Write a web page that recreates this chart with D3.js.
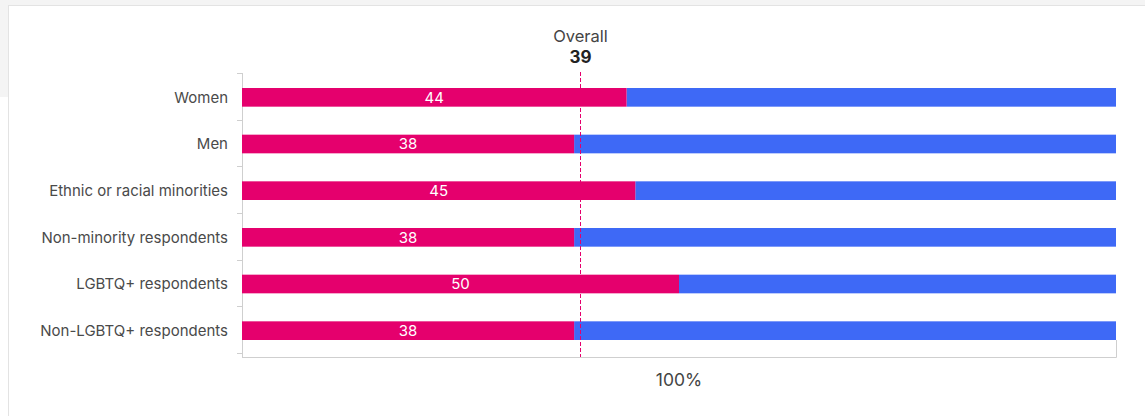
<!DOCTYPE html>
<html>
<head>
<meta charset="utf-8">
<script src="https://cdn.jsdelivr.net/npm/d3@7"></script>
<style>
  html, body { margin: 0; padding: 0; background: #fff; }
  body { width: 1145px; height: 416px; overflow: hidden; font-family: Inter, "Open Sans", sans-serif; }
  svg { display: block; }
</style>
</head>
<body>
<svg id="chart" width="1145" height="416"></svg>
<script>
// Share of respondents per group (pink segment), remainder filled in blue
const categories = ["Women", "Men", "Ethnic or racial minorities", "Non-minority respondents", "LGBTQ+ respondents", "Non-LGBTQ+ respondents"];
const shares = [44, 38, 45, 38, 50, 38];
const overallShare = 39;
const overallLabel = "Overall";
const totalLabel = "100%";

const pink = "#e5006d";
const blue = "#3e69f6";
const axisGrey = "#cfcfcf";

const svg = d3.select("#chart");

// page backdrop and card outline
svg.append("rect").attr("x", 0).attr("y", 0).attr("width", 1145).attr("height", 97).attr("fill", "#f4f4f4");
svg.append("rect").attr("x", 8.5).attr("y", 5.5).attr("width", 1160).attr("height", 430)
  .attr("fill", "#fff").attr("stroke", "#e3e3e3");

const x = d3.scaleLinear().domain([0, 100]).range([242, 1116]);
const y = d3.scaleBand().domain(categories).range([74, 354]).paddingInner(0.6).paddingOuter(0.3);

// y axis: ticks at band boundaries
const boundaries = d3.range(categories.length + 1).map(i => 73 + i * y.step());
const yAxisG = svg.append("g");
yAxisG.selectAll("line.tick")
  .data(boundaries)
  .join("line")
  .attr("class", "tick")
  .attr("x1", 237).attr("x2", 242)
  .attr("y1", d => Math.round(d) + 0.5).attr("y2", d => Math.round(d) + 0.5)
  .attr("stroke", axisGrey);
yAxisG.append("line")
  .attr("x1", 242.5).attr("x2", 242.5).attr("y1", 73).attr("y2", 357.5)
  .attr("stroke", axisGrey);

// bottom baseline with right edge riser
svg.append("path")
  .attr("d", `M${x(0)},357.5H${x(100) + 0.5}V${y(categories[categories.length - 1]) + y.bandwidth()}`)
  .attr("fill", "none").attr("stroke", axisGrey);

// category labels
svg.append("g").selectAll("text")
  .data(categories)
  .join("text")
  .attr("x", 228)
  .attr("y", d => y(d) + y.bandwidth() / 2)
  .attr("dy", "0.35em")
  .attr("text-anchor", "end")
  .attr("font-size", 15)
  .attr("fill", "#4a4a4a")
  .text(d => d);

const rows = categories.map((c, i) => ({ c, v: shares[i] }));

// blue remainder
svg.append("g").selectAll("rect")
  .data(rows)
  .join("rect")
  .attr("x", d => x(d.v))
  .attr("y", d => y(d.c))
  .attr("width", d => x(100) - x(d.v))
  .attr("height", y.bandwidth())
  .attr("fill", blue);

// pink share
svg.append("g").selectAll("rect")
  .data(rows)
  .join("rect")
  .attr("x", x(0))
  .attr("y", d => y(d.c))
  .attr("width", d => x(d.v) - x(0))
  .attr("height", y.bandwidth())
  .attr("fill", pink);

// value labels
svg.append("g").selectAll("text")
  .data(rows)
  .join("text")
  .attr("x", d => (x(0) + x(d.v)) / 2)
  .attr("y", d => y(d.c) + y.bandwidth() / 2)
  .attr("dy", "0.36em")
  .attr("text-anchor", "middle")
  .attr("font-size", 15)
  .attr("fill", "#fff")
  .text(d => d.v);

// overall reference line
const xo = Math.round(x(overallShare)) - 2.5;
svg.append("line")
  .attr("x1", xo).attr("x2", xo)
  .attr("y1", 72).attr("y2", 357)
  .attr("stroke", pink).attr("stroke-width", 1)
  .attr("stroke-dasharray", "4,2");

svg.append("text")
  .attr("x", xo).attr("y", 42)
  .attr("text-anchor", "middle")
  .attr("font-size", 16.5)
  .attr("fill", "#444")
  .text(overallLabel);
svg.append("text")
  .attr("x", xo).attr("y", 63)
  .attr("text-anchor", "middle")
  .attr("font-size", 17)
  .attr("font-weight", "bold")
  .attr("fill", "#222")
  .text(overallShare);

// total label under the axis
svg.append("text")
  .attr("x", (x(0) + x(100)) / 2)
  .attr("y", 386)
  .attr("text-anchor", "middle")
  .attr("font-size", 17.5)
  .attr("fill", "#444")
  .text(totalLabel);
</script>
</body>
</html>
